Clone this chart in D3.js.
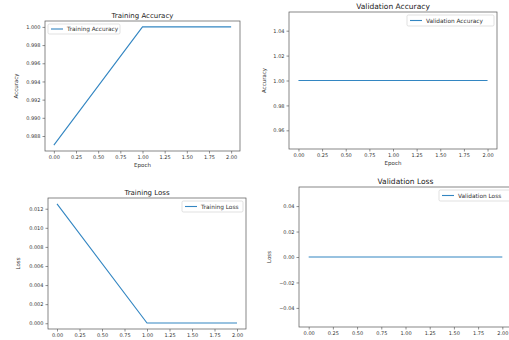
<!DOCTYPE html>
<html><head><meta charset="utf-8">
<script src="https://cdn.jsdelivr.net/npm/d3@7"></script>
<style>body{margin:0;background:#fff;} svg{display:block;font-family:"DejaVu Sans",sans-serif;}</style>
</head><body>
<svg id="c" width="509" height="340"></svg>
<script>
const epochs = [0, 1, 2];
const trainAcc = [0.987, 1.0, 1.0];
const valAcc = [1.0, 1.0, 1.0];
const trainLoss = [0.0125, 0.00002, 0.00002];
const valLoss = [0.0, 0.0, 0.0];
const xTicks = [0, 0.25, 0.5, 0.75, 1.0, 1.25, 1.5, 1.75, 2.0];
const trainAccTicks = [0.988, 0.990, 0.992, 0.994, 0.996, 0.998, 1.000];
const valAccTicks = [0.96, 0.98, 1.00, 1.02, 1.04];
const trainLossTicks = [0.000, 0.002, 0.004, 0.006, 0.008, 0.010, 0.012];
const valLossTicks = [-0.04, -0.02, 0.00, 0.02, 0.04];

const svg = d3.select("#c");
const color = "#3386c2";

function panel(o){
  const g = svg.append("g");
  const xmin = d3.min(epochs), xmax = d3.max(epochs);
  let ymin = d3.min(o.y), ymax = d3.max(o.y);
  if (ymax - ymin < 1e-9) { const m = Math.abs(ymin) > 0 ? 0.05*Math.abs(ymin) : 0.05; ymin -= m; ymax += m; }
  const xm = (xmax - xmin)*0.05, ym = (ymax - ymin)*0.05;
  const x = d3.scaleLinear().domain([xmin - xm, xmax + xm]).range([o.l, o.r]);
  const y = d3.scaleLinear().domain([ymin - ym, ymax + ym]).range([o.b, o.t]);
  const fmt = v => d3.format(o.fmt)(v).replace("-", "\u2212");
  const xa = g.append("g").attr("transform", `translate(0,${o.b})`)
    .call(d3.axisBottom(x).tickValues(xTicks).tickFormat(d3.format(".2f")).tickSize(2.5).tickPadding(2));
  const ya = g.append("g").attr("transform", `translate(${o.l},0)`)
    .call(d3.axisLeft(y).tickValues(o.ticks).tickFormat(fmt).tickSize(2.5).tickPadding(2));
  [xa, ya].forEach(a => {
    a.select(".domain").remove();
    a.selectAll("line").attr("stroke", "#444").attr("stroke-width", 0.6);
    a.selectAll("text").attr("font-size", 5).attr("fill", "#333").attr("font-family", "DejaVu Sans");
  });
  g.append("path").datum(epochs.map((e,i)=>[e,o.y[i]]))
    .attr("d", d3.line().x(d=>x(d[0])).y(d=>y(d[1])))
    .attr("fill","none").attr("stroke",color).attr("stroke-width",1.1);
  g.append("rect").attr("x",o.l).attr("y",o.t).attr("width",o.r-o.l).attr("height",o.b-o.t)
    .attr("fill","none").attr("stroke","#555").attr("stroke-width",0.7);
  g.append("text").attr("x",(o.l+o.r)/2).attr("y",o.t-3).attr("text-anchor","middle")
    .attr("font-size",o.tfs||7).attr("fill","#222").text(o.title);
  if (o.xlabel) g.append("text").attr("x",(o.l+o.r)/2).attr("y",o.b+16).attr("text-anchor","middle")
    .attr("font-size",5.5).attr("fill","#333").text(o.xlabel);
  g.append("text").attr("transform",`translate(${o.ylx},${(o.t+o.b)/2}) rotate(-90)`).attr("text-anchor","middle")
    .attr("font-size",5.5).attr("fill","#333").text(o.ylabel);
  // legend
  const lg = g.append("g").attr("transform",`translate(${o.lgx},${o.lgy})`);
  lg.append("rect").attr("width",o.lgw).attr("height",o.lgh).attr("rx",1.5)
    .attr("fill","#fff").attr("fill-opacity",0.8).attr("stroke","#ccc").attr("stroke-width",0.6);
  lg.append("line").attr("x1",3).attr("x2",15).attr("y1",o.lgh/2).attr("y2",o.lgh/2)
    .attr("stroke",color).attr("stroke-width",1.1);
  lg.append("text").attr("x",19).attr("y",o.lgh/2+2).attr("font-size",5.8).attr("fill","#333").text(o.title);
}

panel({l:45,r:240,t:21,b:151,y:trainAcc,ticks:trainAccTicks,fmt:".3f",title:"Training Accuracy",
  xlabel:"Epoch",ylabel:"Accuracy",ylx:18,lgx:48,lgy:24,lgw:72,lgh:10});
panel({l:289,r:497,t:12,b:149,y:valAcc,ticks:valAccTicks,fmt:".2f",title:"Validation Accuracy",tfs:7.5,
  xlabel:"Epoch",ylabel:"Accuracy",ylx:266,lgx:407,lgy:15,lgw:87,lgh:11});
panel({l:48,r:246,t:198,b:329,y:trainLoss,ticks:trainLossTicks,fmt:".3f",title:"Training Loss",
  xlabel:null,ylabel:"Loss",ylx:20,lgx:182,lgy:201,lgw:61,lgh:11});
panel({l:299,r:512,t:187,b:327,y:valLoss,ticks:valLossTicks,fmt:".2f",title:"Validation Loss",tfs:7.5,
  xlabel:null,ylabel:"Loss",ylx:271,lgx:439,lgy:190,lgw:72,lgh:11});
</script>
</body></html>
